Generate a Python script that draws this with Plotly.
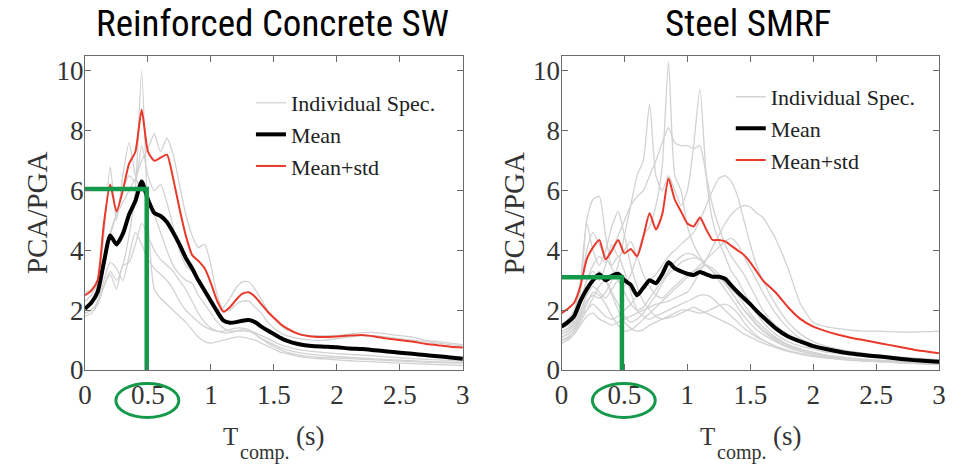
import plotly.graph_objects as go

# Period grid (s)
T = [0, 0.05, 0.1, 0.15, 0.2, 0.25, 0.3, 0.35, 0.4, 0.45, 0.5, 0.55, 0.6, 0.65, 0.7, 0.75,
     0.8, 0.85, 0.9, 0.95, 1.0, 1.05, 1.1, 1.15, 1.2, 1.25, 1.3, 1.35, 1.4, 1.45, 1.5, 1.55,
     1.6, 1.7, 1.8, 1.9, 2.0, 2.1, 2.2, 2.3, 2.4, 2.5, 2.6, 2.7, 2.8, 2.9, 3.0]

# ---- Reinforced Concrete SW ----
rc_mean = [2.05, 2.25, 2.6, 3.6, 4.5, 4.2, 4.55, 5.2, 5.65, 6.3, 5.7, 5.25, 5.15, 4.95, 4.6, 4.2,
           3.75, 3.4, 3.0, 2.65, 2.3, 1.95, 1.65, 1.58, 1.6, 1.65, 1.67, 1.6, 1.45, 1.32, 1.2, 1.08,
           0.98, 0.86, 0.8, 0.78, 0.76, 0.72, 0.7, 0.66, 0.62, 0.58, 0.54, 0.5, 0.46, 0.42, 0.38]
rc_mean_std = [2.5, 2.65, 3.0, 4.9, 6.2, 5.3, 6.0, 6.9, 7.3, 8.7, 7.3, 7.0, 7.1, 7.2, 6.4, 5.4,
               4.5, 3.85, 3.65, 3.4, 2.9, 2.3, 1.95, 2.1, 2.35, 2.55, 2.6, 2.45, 2.2, 1.95, 1.75, 1.55,
               1.4, 1.2, 1.12, 1.1, 1.12, 1.15, 1.17, 1.12, 1.05, 1.0, 0.95, 0.88, 0.83, 0.78, 0.75]
rc_spec_1 = [1.9, 2.0, 2.2, 2.8, 3.3, 3.0, 3.5, 4.5, 6.0, 10.0, 5.0, 2.7, 2.4, 2.2, 2.0, 1.8,
             1.6, 1.35, 1.1, 0.95, 0.9, 0.95, 1.0, 1.05, 1.1, 1.1, 1.05, 1.0, 0.9, 0.8, 0.7, 0.6,
             0.55, 0.45, 0.4, 0.37, 0.34, 0.31, 0.29, 0.27, 0.25, 0.23, 0.21, 0.2, 0.18, 0.17, 0.15]
rc_spec_2 = [2.3, 2.5, 2.9, 3.8, 4.6, 5.2, 5.6, 6.0, 6.4, 7.0, 7.4, 7.9, 7.3, 7.75, 7.2, 6.2,
             5.2, 4.5, 4.1, 4.2, 3.5, 2.5, 2.0, 2.0, 2.2, 2.3, 2.3, 2.1, 1.9, 1.6, 1.4, 1.25,
             1.15, 1.05, 1.0, 1.0, 1.05, 1.1, 1.15, 1.15, 1.1, 1.05, 1.0, 0.95, 0.9, 0.85, 0.8]
rc_spec_3 = [2.1, 2.3, 2.8, 4.5, 6.8, 5.0, 6.5, 7.6, 6.5, 6.0, 5.8, 5.2, 4.6, 4.0, 3.5, 3.2,
             3.0, 2.9, 2.5, 2.2, 1.9, 1.6, 1.4, 1.3, 1.3, 1.3, 1.3, 1.25, 1.15, 1.05, 0.95, 0.85,
             0.78, 0.68, 0.62, 0.58, 0.55, 0.52, 0.5, 0.47, 0.44, 0.41, 0.38, 0.36, 0.34, 0.32, 0.3]
rc_spec_4 = [1.8, 1.9, 2.2, 2.8, 3.2, 2.7, 3.5, 3.6, 4.2, 4.9, 4.5, 4.0, 3.7, 3.5, 3.3, 3.0,
             2.7, 2.3, 1.9, 1.6, 1.4, 1.3, 1.25, 1.25, 1.3, 1.35, 1.3, 1.2, 1.05, 0.95, 0.85, 0.75,
             0.68, 0.58, 0.52, 0.48, 0.45, 0.42, 0.4, 0.37, 0.35, 0.33, 0.31, 0.29, 0.27, 0.26, 0.25]
rc_spec_5 = [2.6, 2.7, 3.0, 3.4, 4.5, 5.2, 6.0, 6.5, 6.3, 7.5, 6.5, 6.0, 6.2, 5.6, 4.8, 4.0,
             3.5, 3.3, 3.0, 2.6, 2.2, 2.0, 2.1, 2.4, 2.75, 2.95, 2.95, 2.7, 2.35, 2.0, 1.7, 1.5,
             1.35, 1.2, 1.15, 1.15, 1.15, 1.2, 1.25, 1.25, 1.2, 1.15, 1.1, 1.0, 0.95, 0.9, 0.85]
rc_spec_6 = [1.9, 2.0, 2.3, 3.0, 3.6, 3.4, 3.0, 3.8, 4.6, 4.2, 3.7, 3.4, 3.2, 3.0, 2.7, 2.3,
             2.0, 1.8, 1.6, 1.45, 1.35, 1.3, 1.3, 1.35, 1.4, 1.4, 1.35, 1.2, 1.05, 0.9, 0.78, 0.68,
             0.6, 0.5, 0.45, 0.42, 0.4, 0.38, 0.36, 0.34, 0.32, 0.3, 0.28, 0.26, 0.25, 0.24, 0.23]
rc_specs = [rc_spec_1, rc_spec_2, rc_spec_3, rc_spec_4, rc_spec_5, rc_spec_6]
rc_marker_T = 0.49
rc_marker_val = 6.05

# ---- Steel SMRF ----
sm_mean = [1.45, 1.6, 1.8, 2.3, 2.7, 3.0, 3.2, 3.0, 3.15, 3.22, 3.0, 2.85, 2.5, 2.75, 3.0, 2.9,
           3.2, 3.6, 3.4, 3.3, 3.22, 3.18, 3.28, 3.2, 3.12, 3.12, 3.05, 2.82, 2.6, 2.4, 2.2, 1.98,
           1.78, 1.4, 1.12, 0.95, 0.8, 0.7, 0.62, 0.55, 0.5, 0.46, 0.42, 0.37, 0.33, 0.3, 0.28]
sm_mean_std = [1.9, 2.05, 2.25, 2.8, 3.7, 4.1, 4.35, 3.7, 4.0, 4.35, 3.9, 4.05, 3.8, 4.45, 5.24, 4.7,
               5.2, 6.4, 5.7, 5.3, 4.9, 4.8, 5.1, 4.7, 4.35, 4.35, 4.3, 4.15, 4.0, 3.85, 3.6, 3.3,
               3.0, 2.6, 2.1, 1.7, 1.45, 1.3, 1.18, 1.08, 1.0, 0.92, 0.84, 0.76, 0.68, 0.62, 0.56]
sm_spec_1 = [1.2, 1.3, 1.5, 2.0, 2.5, 2.8, 2.6, 2.4, 2.7, 3.0, 2.8, 3.2, 3.8, 4.5, 4.8, 5.5,
             6.8, 10.3, 6.5, 6.0, 4.8, 4.2, 3.8, 3.5, 3.3, 3.1, 2.9, 2.6, 2.3, 2.0, 1.8, 1.55,
             1.35, 1.05, 0.85, 0.7, 0.6, 0.5, 0.45, 0.4, 0.35, 0.32, 0.3, 0.27, 0.25, 0.23, 0.22]
sm_spec_2 = [1.0, 1.1, 1.3, 1.8, 2.3, 2.5, 2.4, 2.6, 3.0, 3.5, 4.5, 5.5, 6.5, 7.0, 8.9, 6.5,
             6.0, 6.5, 6.0, 5.5, 6.0, 7.5, 9.4, 6.5, 5.0, 4.3, 3.8, 3.3, 3.0, 2.6, 2.2, 1.9,
             1.6, 1.2, 0.95, 0.8, 0.7, 0.6, 0.55, 0.5, 0.45, 0.42, 0.4, 0.37, 0.35, 0.33, 0.3]
sm_spec_3 = [1.3, 1.4, 1.7, 2.3, 3.0, 3.5, 3.8, 3.6, 4.0, 4.5, 5.0, 5.5, 5.8, 6.0, 6.5, 7.0,
             7.6, 8.1, 7.6, 7.5, 7.5, 7.4, 7.5, 6.5, 5.5, 4.8, 4.2, 3.8, 3.5, 3.2, 2.8, 2.4,
             2.0, 1.5, 1.2, 1.0, 0.85, 0.75, 0.68, 0.6, 0.55, 0.5, 0.46, 0.43, 0.4, 0.37, 0.35]
sm_spec_4 = [1.1, 1.2, 1.4, 1.8, 2.0, 2.2, 2.0, 1.8, 1.7, 1.8, 2.0, 2.2, 2.5, 2.8, 3.0, 3.2,
             3.5, 3.8, 4.0, 4.2, 4.4, 4.6, 5.0, 5.5, 6.0, 6.4, 6.5, 6.3, 5.8, 5.0, 4.2, 3.5,
             3.0, 2.2, 1.6, 1.2, 0.95, 0.8, 0.7, 0.62, 0.56, 0.5, 0.46, 0.42, 0.39, 0.36, 0.33]
sm_spec_5 = [1.0, 1.05, 1.2, 1.5, 1.8, 1.9, 1.7, 1.6, 1.5, 1.6, 1.7, 1.8, 1.9, 2.0, 2.1, 2.2,
             2.25, 2.3, 2.4, 2.5, 2.6, 2.9, 3.3, 3.7, 4.1, 4.5, 4.9, 5.2, 5.4, 5.5, 5.45, 5.25,
             5.1, 4.4, 3.4, 2.2, 1.6, 1.45, 1.38, 1.33, 1.3, 1.3, 1.28, 1.27, 1.27, 1.28, 1.3]
sm_spec_6 = [1.5, 1.7, 2.0, 3.0, 5.0, 5.7, 5.8, 4.5, 3.5, 3.8, 3.3, 2.6, 2.0, 1.8, 1.7, 1.8,
             1.9, 2.0, 2.1, 2.2, 2.3, 2.4, 2.5, 2.5, 2.4, 2.2, 2.0, 1.8, 1.6, 1.4, 1.25, 1.1,
             1.0, 0.8, 0.65, 0.55, 0.48, 0.42, 0.38, 0.34, 0.31, 0.28, 0.26, 0.24, 0.22, 0.2, 0.19]
sm_spec_7 = [1.3, 1.4, 1.7, 2.6, 4.9, 4.0, 3.5, 4.0, 4.8, 5.3, 4.5, 3.5, 2.8, 2.3, 2.0, 1.8,
             1.7, 1.75, 1.8, 1.9, 2.0, 2.1, 2.0, 1.9, 1.8, 1.7, 1.6, 1.5, 1.35, 1.2, 1.1, 1.0,
             0.9, 0.75, 0.62, 0.52, 0.45, 0.4, 0.36, 0.32, 0.3, 0.28, 0.26, 0.24, 0.22, 0.2, 0.18]
sm_spec_8 = [0.9, 1.0, 1.2, 1.6, 2.0, 2.4, 2.8, 3.0, 2.6, 2.2, 1.8, 1.6, 1.7, 1.9, 2.2, 2.5,
             2.9, 3.2, 3.4, 3.6, 3.7, 3.75, 3.7, 3.5, 3.3, 3.0, 2.7, 2.4, 2.1, 1.8, 1.55, 1.35,
             1.2, 0.95, 0.75, 0.62, 0.52, 0.45, 0.4, 0.36, 0.33, 0.3, 0.28, 0.26, 0.24, 0.22, 0.2]
sm_spec_9 = [1.1, 1.2, 1.4, 1.9, 2.5, 3.0, 3.3, 3.0, 2.5, 2.0, 1.6, 1.4, 1.3, 1.35, 1.5, 1.6,
             1.7, 1.8, 1.9, 2.0, 2.0, 1.95, 1.9, 1.95, 2.05, 2.15, 2.2, 2.1, 1.9, 1.6, 1.35, 1.15,
             1.0, 0.8, 0.65, 0.55, 0.47, 0.42, 0.38, 0.34, 0.31, 0.29, 0.27, 0.25, 0.23, 0.21, 0.2]
sm_spec_10 = [1.2, 1.3, 1.6, 2.2, 3.0, 3.3, 3.0, 3.5, 4.2, 3.8, 4.0, 4.3, 3.8, 3.2, 2.8, 2.5,
              2.4, 2.6, 2.8, 3.0, 3.2, 3.3, 3.4, 3.5, 3.4, 3.2, 2.9, 2.6, 2.3, 2.0, 1.75, 1.5,
              1.3, 1.0, 0.8, 0.65, 0.55, 0.48, 0.42, 0.38, 0.35, 0.32, 0.3, 0.28, 0.26, 0.24, 0.22]
sm_spec_11 = [1.0, 1.1, 1.3, 1.7, 2.2, 2.6, 2.5, 2.2, 1.8, 1.5, 1.3, 1.35, 1.5, 1.7, 1.9, 2.1,
              2.3, 2.5, 2.7, 2.9, 3.1, 3.3, 3.5, 3.7, 3.9, 4.1, 4.3, 4.4, 4.2, 3.8, 3.4, 3.0,
              2.6, 1.9, 1.4, 1.05, 0.85, 0.72, 0.62, 0.55, 0.5, 0.46, 0.42, 0.39, 0.36, 0.33, 0.3]
sm_spec_12 = [1.4, 1.5, 1.9, 2.8, 4.0, 4.6, 4.2, 3.8, 3.4, 3.0, 2.6, 2.2, 2.0, 2.1, 2.4, 2.7,
              3.0, 3.3, 3.6, 3.8, 3.9, 3.85, 3.7, 3.5, 3.3, 3.1, 2.9, 2.7, 2.5, 2.2, 1.9, 1.65,
              1.45, 1.1, 0.85, 0.7, 0.58, 0.5, 0.44, 0.4, 0.36, 0.33, 0.31, 0.29, 0.27, 0.25, 0.24]
sm_specs = [sm_spec_1, sm_spec_2, sm_spec_3, sm_spec_4, sm_spec_5, sm_spec_6, sm_spec_7,
            sm_spec_8, sm_spec_9, sm_spec_10, sm_spec_11, sm_spec_12]
sm_marker_T = 0.48
sm_marker_val = 3.1

# tick labels
x_tickvals = [0, 0.5, 1, 1.5, 2, 2.5, 3]
x_ticktext = ["0", "0.5", "1", "1.5", "2", "2.5", "3"]
y_tickvals = [0, 2, 4, 6, 8, 10]
y_ticktext = ["0", "2", "4", "6", "8", "10"]
titles = ["Reinforced Concrete SW", "Steel SMRF"]

SERIF = "Liberation Serif, Times New Roman, serif"
NARROW = "Liberation Sans Narrow, Arial Narrow, Roboto Condensed, Liberation Sans, sans-serif"
GRAY = "#d2d2d2"
RED = "#e8392b"
GREEN = "#14994a"
AXC = "#6b6b6b"
TXT = "#333333"

fig = go.Figure()

panels = [
    ("x", "y", "legend", rc_specs, rc_mean, rc_mean_std, rc_marker_T, rc_marker_val),
    ("x2", "y2", "legend2", sm_specs, sm_mean, sm_mean_std, sm_marker_T, sm_marker_val),
]
for xa, ya, lg, specs, mean, mstd, mT, mV in panels:
    for i, s in enumerate(specs):
        fig.add_trace(go.Scatter(
            x=T, y=s, xaxis=xa, yaxis=ya, mode="lines", legend=lg,
            line=dict(color=GRAY, width=1.3, shape="spline", smoothing=0.6),
            name="Individual Spec.", showlegend=(i == 0), hoverinfo="skip"))
    fig.add_trace(go.Scatter(
        x=T, y=mean, xaxis=xa, yaxis=ya, mode="lines", legend=lg,
        line=dict(color="black", width=4, shape="spline", smoothing=0.6),
        name="Mean", hoverinfo="skip"))
    fig.add_trace(go.Scatter(
        x=T, y=mstd, xaxis=xa, yaxis=ya, mode="lines", legend=lg,
        line=dict(color=RED, width=2, shape="spline", smoothing=0.6),
        name="Mean+std", hoverinfo="skip"))
    fig.add_trace(go.Scatter(
        x=[0, mT, mT], y=[mV, mV, 0], xaxis=xa, yaxis=ya, mode="lines",
        line=dict(color=GREEN, width=4.5), showlegend=False, hoverinfo="skip",
        cliponaxis=False))

W, H = 967, 466
ML, MR, MT, MB = 85, 27.7, 56, 95.5
PW = W - ML - MR
PH = H - MT - MB


def px_x(p):
    return (p - ML) / PW


def px_y(p):
    return (H - MB - p) / PH


axis_common = dict(showline=True, linecolor=AXC, linewidth=1.3, mirror="ticks",
                   ticks="inside", ticklen=6, tickcolor=AXC, tickwidth=1.2,
                   showgrid=False, zeroline=False, fixedrange=True,
                   tickfont=dict(family=SERIF, size=27, color=TXT))

legend_common = dict(xanchor="left", yanchor="top", bgcolor="rgba(0,0,0,0)",
                     font=dict(family=SERIF, size=22, color="#222222"),
                     tracegroupgap=0, itemwidth=30)

fig.update_layout(
    width=W, height=H,
    margin=dict(l=ML, r=MR, t=MT, b=MB, autoexpand=False),
    paper_bgcolor="white", plot_bgcolor="white",
    xaxis=dict(domain=[0, px_x(463)], range=[0, 3], tickvals=x_tickvals, ticktext=x_ticktext,
               anchor="y", **axis_common),
    yaxis=dict(domain=[0, 1], range=[0, 10.5], tickvals=y_tickvals, ticktext=y_ticktext,
               anchor="x", ticklabelstandoff=-5, **axis_common),
    xaxis2=dict(domain=[px_x(561.7), 1], range=[0, 3], tickvals=x_tickvals, ticktext=x_ticktext,
                anchor="y2", **axis_common),
    yaxis2=dict(domain=[0, 1], range=[0, 10.5], tickvals=y_tickvals, ticktext=y_ticktext,
                anchor="x2", ticklabelstandoff=-5, **axis_common),
    legend=dict(x=px_x(251), y=px_y(82), **legend_common),
    legend2=dict(x=px_x(731), y=px_y(76), **legend_common),
    showlegend=True,
)

annotations = []
# panel titles
for txt, cx in zip(titles, [273, 748]):
    annotations.append(dict(text=txt, x=px_x(cx), y=px_y(23), xref="paper", yref="paper",
                            showarrow=False, xanchor="center", yanchor="middle",
                            font=dict(family=NARROW, size=37, color="black")))
# axis titles
for off in [0, 476.7]:
    annotations.append(dict(text="PCA/PGA", x=px_x(37 + off), y=0.5, xref="paper", yref="paper",
                            textangle=-90, showarrow=False, xanchor="center", yanchor="middle",
                            font=dict(family=SERIF, size=29, color=TXT)))
    annotations.append(dict(text="T", x=px_x(231 + off), y=px_y(437),
                            xref="paper", yref="paper", showarrow=False,
                            xanchor="center", yanchor="middle",
                            font=dict(family=SERIF, size=25, color=TXT)))
    annotations.append(dict(text="comp.", x=px_x(265 + off), y=px_y(453),
                            xref="paper", yref="paper", showarrow=False,
                            xanchor="center", yanchor="middle",
                            font=dict(family=SERIF, size=20, color=TXT)))
    annotations.append(dict(text="(s)", x=px_x(311 + off), y=px_y(437),
                            xref="paper", yref="paper", showarrow=False,
                            xanchor="center", yanchor="middle",
                            font=dict(family=SERIF, size=27, color=TXT)))
fig.update_layout(annotations=annotations)

# green ellipses around the 0.5 tick label
shapes = []
for xr in ["x", "x2"]:
    shapes.append(dict(type="circle", xref=xr, yref="paper", x0=0.245, x1=0.745,
                       y0=px_y(418), y1=px_y(384), line=dict(color=GREEN, width=3)))
fig.update_layout(shapes=shapes)

fig.write_html("out.html", config={"displayModeBar": False},
               post_script="document.body.style.margin='0px';")
